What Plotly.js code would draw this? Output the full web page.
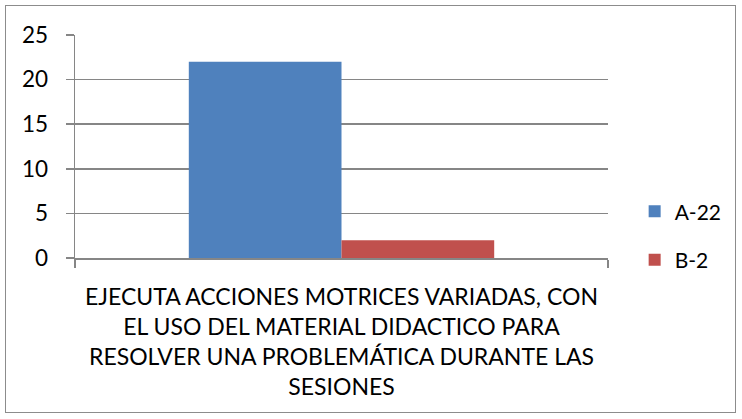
<!DOCTYPE html>
<html>
<head>
<meta charset="utf-8">
<script src="https://cdn.plot.ly/plotly-3.0.1.min.js"></script>
<style>
  html, body { margin: 0; padding: 0; background: #fff; }
  #wrap { position: relative; width: 742px; height: 419px; }
  #chart { position: absolute; left: 0; top: 0; width: 742px; height: 419px; }
  #frame { position: absolute; left: 5px; top: 5px; width: 729px; height: 406px; border: 1.5px solid #8c8c8c; pointer-events: none; }
</style>
</head>
<body>
<div id="wrap">
  <div id="chart"></div>
  <div id="frame"></div>
</div>
<script>
const categories = ["EJECUTA ACCIONES MOTRICES VARIADAS, CON<br>EL USO DEL MATERIAL DIDACTICO PARA<br>RESOLVER UNA PROBLEMÁTICA DURANTE LAS<br>SESIONES"];
const seriesNames = ["A-22", "B-2"];
const seriesA = [22];
const seriesB = [2];
const yTicks = [0, 5, 10, 15, 20, 25];
const colors = ["#4F81BD", "#C0504D"];

const font = "Lato, Carlito, Calibri, 'Liberation Sans', sans-serif";

const traces = [
  { type: "bar", name: seriesNames[0], x: categories, y: seriesA, marker: { color: colors[0] }, legendgroup: "a" },
  { type: "bar", name: seriesNames[1], x: categories, y: seriesB, marker: { color: colors[1] }, legendgroup: "b" }
];

const layout = {
  width: 742, height: 419,
  margin: { l: 75, r: 134, t: 35, b: 161 },
  paper_bgcolor: "#fff", plot_bgcolor: "#fff",
  barmode: "group",
  bargap: 0.427,
  bargroupgap: 0,
  font: { family: font, size: 22, color: "#000" },
  showlegend: true,
  legend: {
    x: 1.05, y: 0.1, xanchor: "left", yanchor: "middle",
    font: { family: font, size: 21, color: "#000" },
    traceorder: "grouped", tracegroupgap: 18,
    itemwidth: 30, bgcolor: "rgba(0,0,0,0)"
  },
  xaxis: {
    type: "category",
    showline: true, linecolor: "#868686", linewidth: 1.5,
    ticks: "outside", tickson: "boundaries", ticklen: 8, tickcolor: "#868686", tickwidth: 1.5,
    tickfont: { family: font, size: 23, color: "#000" },
    ticklabelstandoff: 18,
    showgrid: false, fixedrange: true
  },
  yaxis: {
    range: [0, 25],
    tickvals: yTicks, ticktext: yTicks.map(String),
    showline: true, linecolor: "#868686", linewidth: 1.5,
    ticks: "outside", ticklen: 8, tickcolor: "#868686", tickwidth: 1.5,
    showgrid: true, gridcolor: "#868686", gridwidth: 1.5,
    zeroline: false,
    tickfont: { family: font, size: 22.5, color: "#000" },
    ticklabelstandoff: 13,
    fixedrange: true
  }
};

Plotly.newPlot("chart", traces, layout, { displayModeBar: false, staticPlot: true });
</script>
</body>
</html>
